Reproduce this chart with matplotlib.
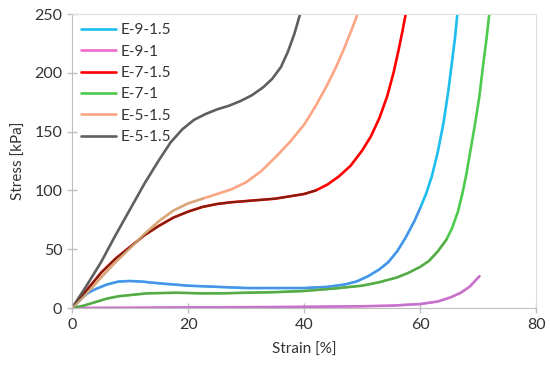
import numpy as np
import matplotlib.pyplot as plt

plt.rcParams['font.family'] = ['Lato', 'DejaVu Sans']

# E-9-1.5
x_e9_15 = [0, 1, 2, 3, 4, 6, 8, 10, 12, 15, 20, 25, 30, 35, 40, 44, 47, 49, 51, 53, 54.5,
           56, 57.5, 59, 60, 61, 62, 63, 64, 64.8, 65.5, 66, 66.4]
y_e9_15 = [0, 5, 10, 13.5, 16, 20, 22.5, 23, 22.5, 21, 19, 18, 17, 17, 17, 18, 20, 22.5, 27, 33, 39,
           48, 60, 74, 85, 97, 112, 132, 157, 183, 210, 230, 250]
# E-9-1
x_e9_1 = [0, 10, 20, 30, 40, 50, 55, 60, 63, 65.2, 67, 68.5, 70.2]
y_e9_1 = [0, 0.2, 0.5, 0.7, 1, 1.5, 2, 3.4, 5.5, 9, 13, 18, 27]
# E-7-1.5
x_e7_15 = [0, 2.5, 5, 7.5, 10, 12.5, 15, 17.5, 20, 22.5, 25, 27.5, 30, 32.5, 35, 37.5, 40, 42, 44,
           46, 48, 50, 51.5, 53, 54.3, 55.4, 56.3, 57, 57.5]
y_e7_15 = [0, 15, 30, 42, 52, 62, 70, 77, 82, 86, 88.5, 90, 91, 92, 93, 95, 97, 100, 105,
           112, 121, 134, 146, 162, 180, 200, 220, 237, 250]
# E-7-1
x_e7_1 = [0, 2, 4, 6, 8, 10, 13, 18, 22, 26, 30, 35, 40, 45, 50, 53, 56, 58, 60, 61.5, 63, 64.5,
          65.5, 66.5, 67.3, 68, 68.8, 69.5, 70.2, 70.8, 71.4, 71.9]
y_e7_1 = [0, 2, 5, 8, 10, 11, 12.5, 13, 12.5, 12.5, 13, 13.5, 14.5, 16.5, 19, 22, 26, 30, 35, 40, 48, 58,
          68, 82, 98, 115, 138, 158, 180, 205, 228, 250]
# E-5-1.5 (orange)
x_e5_15a = [0, 2.5, 5, 7.5, 10, 12.5, 15, 17.5, 20, 22.5, 25, 27.5, 30, 32.5, 35, 37.5, 40, 42, 44,
            45.5, 47, 48.2, 49.2]
y_e5_15a = [0, 12, 26, 39, 51, 63, 74, 83, 89, 93, 97, 101, 107, 116, 128, 141, 156, 172, 190,
            205, 222, 237, 250]
# E-5-1.5 (grey)
x_e5_15b = [0, 2.5, 5, 7.5, 10, 12.5, 15, 17, 19, 21, 23, 25, 27, 29, 31, 33, 34.5, 36, 37.2, 38.3, 39.3]
y_e5_15b = [0, 19, 39, 62, 84, 106, 126, 141, 152, 160, 165, 169, 172, 176, 181, 188, 195, 205, 218, 233, 250]

labels = ['E-9-1.5', 'E-9-1', 'E-7-1.5', 'E-7-1', 'E-5-1.5', 'E-5-1.5']
xs = [x_e9_15, x_e9_1, x_e7_15, x_e7_1, x_e5_15a, x_e5_15b]
ys = [y_e9_15, y_e9_1, y_e7_15, y_e7_1, y_e5_15a, y_e5_15b]
colors = ['#1CBEEF', '#F06ACF', '#FF0000', '#4CCB4C', '#FBA585', '#5F5F5F']
# darker tint seen on the lower part of some curves
low_colors = ['#5A86E6', '#B878CC', '#6A2410', '#5EA048', '#CBAA78', None]
low_limit = [95, 30, 100, 60, 95, None]

fig, ax = plt.subplots(figsize=(5.5, 3.72), dpi=100)
fig.subplots_adjust(left=0.131, right=0.975, bottom=0.172, top=0.962)

for x, y, c, lab in zip(xs, ys, colors, labels):
    ax.plot(x, y, color=c, lw=1.9, label=lab, solid_capstyle='round', solid_joinstyle='round')

for x, y, c, lim in zip(xs, ys, low_colors, low_limit):
    if c is None:
        continue
    x = np.array(x)
    y = np.array(y, dtype=float)
    y = np.where(y <= lim, y, np.nan)
    ax.plot(x, y, color=c, lw=1.5, alpha=0.85, solid_joinstyle='round')

ax.set_xlim(0, 80)
ax.set_ylim(0, 250)
ax.set_xticks([0, 20, 40, 60, 80])
ax.set_yticks([0, 50, 100, 150, 200, 250])
ax.set_xlabel('Strain [%]', fontsize=11, color='#333333', labelpad=8)
ax.set_ylabel('Stress [kPa]', fontsize=11, color='#333333', labelpad=6)
ax.tick_params(direction='inout', length=7, width=1, color='#BFBFBF', labelsize=11.5, labelcolor='#333333')
for side in ['left', 'bottom']:
    ax.spines[side].set_color('#BFBFBF')
for side in ['top', 'right']:
    ax.spines[side].set_color('#E0E0E0')

ax.legend(loc='upper left', frameon=False, fontsize=11, handlelength=2.3,
          labelspacing=0.48, borderaxespad=0.2, handletextpad=0.3, labelcolor='#333333')

fig.savefig('out.png', dpi=100)
